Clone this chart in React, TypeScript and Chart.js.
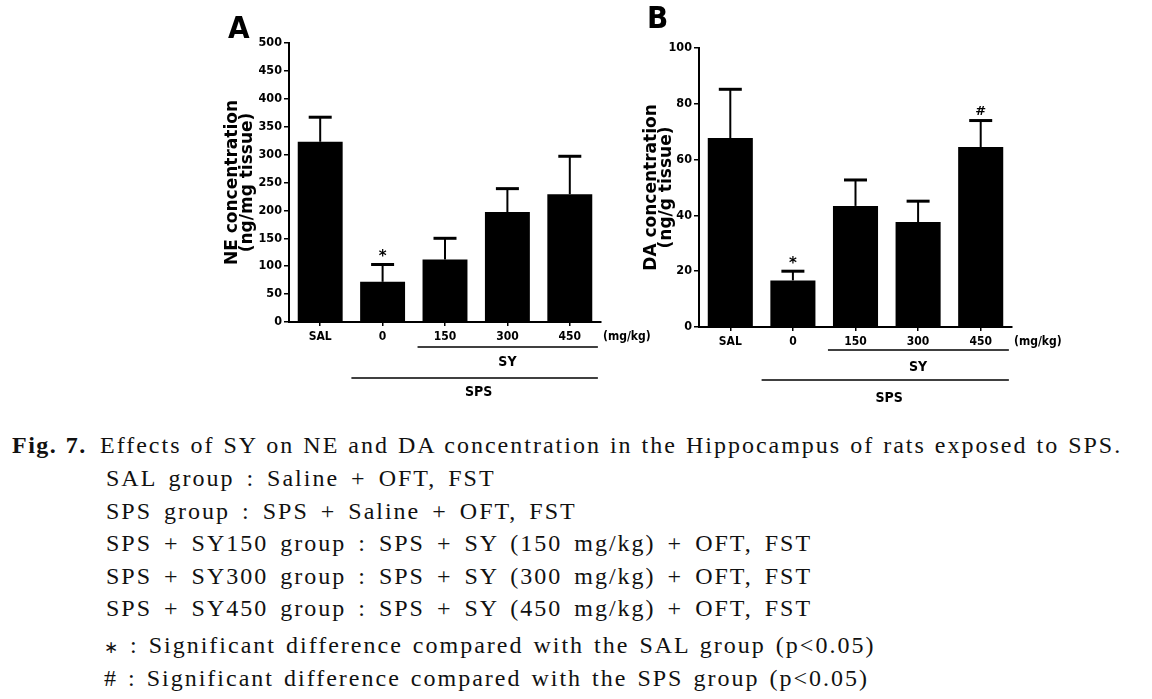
import React, { useEffect, useRef } from 'react';
import { Chart, registerables } from 'chart.js';

Chart.register(...registerables);

// ---------- data ----------
const categories = ['SAL', '0', '150', '300', '450'];

const neMeans = [323, 72, 112, 197, 229];
const neErrors = [44, 31, 38, 42, 68];
const neMarks = ['', '*', '', '', ''];
const neTicks = [0, 50, 100, 150, 200, 250, 300, 350, 400, 450, 500];
const neTitle = ['NE concentration', '(ng/mg tissue)'];

const daMeans = [67.7, 16.7, 43.4, 37.6, 64.5];
const daErrors = [17.5, 3.3, 9.3, 7.5, 9.5];
const daMarks = ['', '*', '', '', '#'];
const daTicks = [0, 20, 40, 60, 80, 100];
const daTitle = ['DA concentration', '(ng/g tissue)'];

const unitLabel = '(mg/kg)';
const innerGroup = 'SY';
const outerGroup = 'SPS';

const captionHead = 'Fig. 7.';
const captionFirst = 'Effects of SY on NE and DA concentration in the Hippocampus of rats exposed to SPS.';
const captionLines = [
  'SAL group : Saline + OFT, FST',
  'SPS group : SPS + Saline + OFT, FST',
  'SPS + SY150 group : SPS + SY (150 mg/kg) + OFT, FST',
  'SPS + SY300 group : SPS + SY (300 mg/kg) + OFT, FST',
  'SPS + SY450 group : SPS + SY (450 mg/kg) + OFT, FST',
];
const noteSymbols = ['\u2217', '#'];
const noteLines = [
  ' : Significant difference compared with the SAL group (p<0.05)',
  ' : Significant difference compared with the SPS group (p<0.05)',
];

// ---------- style ----------
const AXIS_FONT = "'DejaVu Sans Condensed', 'DejaVu Sans', sans-serif";
const TITLE_FONT = "'DejaVu Sans', sans-serif";
const PANEL_FONT = "'Liberation Sans Narrow', 'DejaVu Sans Condensed', sans-serif";

const decorPlugin = {
  id: 'figDecor',
  afterDatasetsDraw(chart: any, _args: any, opts: any) {
    const ctx = chart.ctx;
    const ys = chart.scales.y;
    const meta = chart.getDatasetMeta(0);
    const vals = chart.data.datasets[0].data as number[];
    ctx.save();
    ctx.strokeStyle = '#000';
    ctx.fillStyle = '#000';
    meta.data.forEach((bar: any, i: number) => {
      const cx = bar.x;
      const y0 = ys.getPixelForValue(vals[i]);
      const y1 = ys.getPixelForValue(vals[i] + opts.errors[i]);
      ctx.lineWidth = 2;
      ctx.beginPath();
      ctx.moveTo(cx, y0);
      ctx.lineTo(cx, y1);
      ctx.stroke();
      ctx.lineWidth = 3;
      ctx.beginPath();
      ctx.moveTo(cx - 11.5, y1);
      ctx.lineTo(cx + 11.5, y1);
      ctx.stroke();
      const m = opts.marks[i];
      if (m) {
        ctx.font = (m === '#' ? 'bold 13px ' : 'bold 15px ') + TITLE_FONT;
        ctx.textAlign = 'center';
        ctx.textBaseline = 'middle';
        ctx.fillText(m, cx, y1 - (m === '#' ? 9 : 7));
      }
    });
    ctx.restore();
  },
  afterDraw(chart: any, _args: any, opts: any) {
    const ctx = chart.ctx;
    const xs = chart.scales.x;
    const area = chart.chartArea;
    const cw = xs.getPixelForValue(1) - xs.getPixelForValue(0);
    const bottom = area.bottom;
    ctx.save();
    ctx.fillStyle = '#000';
    ctx.strokeStyle = '#000';
    // panel letter
    ctx.font = 'bold 31px ' + PANEL_FONT;
    ctx.textAlign = 'left';
    ctx.textBaseline = 'alphabetic';
    ctx.fillText(opts.panel, opts.panelX, opts.panelY);
    // unit label
    ctx.font = 'bold 12px ' + PANEL_FONT;
    ctx.textBaseline = 'middle';
    ctx.fillText(unitLabel, area.right + 2, bottom + 15);
    // SY line
    const syL = xs.getPixelForValue(2) - 0.44 * cw;
    const syR = xs.getPixelForValue(4) + 0.45 * cw;
    ctx.lineWidth = 1.5;
    ctx.beginPath();
    ctx.moveTo(syL, bottom + opts.syLine);
    ctx.lineTo(syR, bottom + opts.syLine);
    ctx.stroke();
    ctx.font = 'bold 14px ' + AXIS_FONT;
    ctx.textAlign = 'center';
    ctx.fillText(innerGroup, xs.getPixelForValue(3), bottom + opts.syText);
    // SPS line
    const spL = xs.getPixelForValue(1) - 0.5 * cw;
    ctx.beginPath();
    ctx.moveTo(spL, bottom + opts.spsLine);
    ctx.lineTo(syR, bottom + opts.spsLine);
    ctx.stroke();
    ctx.fillText(outerGroup, (spL + syR) / 2 + 4, bottom + opts.spsText);
    ctx.restore();
  },
};

function makeConfig(
  means: number[],
  errors: number[],
  marks: string[],
  ticks: number[],
  title: string[],
  yWidth: number,
  padding: any,
  decor: any
): any {
  return {
    type: 'bar',
    data: {
      labels: categories,
      datasets: [
        {
          data: means,
          backgroundColor: '#000',
          borderWidth: 0,
          barPercentage: 0.72,
          categoryPercentage: 1,
        },
      ],
    },
    options: {
      animation: false,
      responsive: false,
      devicePixelRatio: 1,
      layout: { padding },
      plugins: {
        legend: { display: false },
        tooltip: { enabled: false },
        title: { display: false },
        figDecor: { errors, marks, ...decor },
      },
      scales: {
        x: {
          offset: true,
          grid: {
            display: true,
            offset: false,
            drawOnChartArea: false,
            drawTicks: true,
            tickLength: 4,
            color: '#000',
            lineWidth: 1.5,
          },
          border: { display: true, color: '#000', width: 2 },
          ticks: {
            color: '#000',
            padding: 4,
            maxRotation: 0,
            autoSkip: false,
            font: { family: AXIS_FONT, weight: 'bold', size: 12 },
          },
          afterFit: (s: any) => {
            s.height = 20;
          },
        },
        y: {
          min: ticks[0],
          max: ticks[ticks.length - 1],
          afterBuildTicks: (s: any) => {
            s.ticks = ticks.map((v) => ({ value: v }));
          },
          grid: {
            display: true,
            drawOnChartArea: false,
            drawTicks: true,
            tickLength: 5,
            color: '#000',
            lineWidth: 1.5,
          },
          border: { display: true, color: '#000', width: 2 },
          ticks: {
            color: '#000',
            padding: 2,
            font: { family: AXIS_FONT, weight: 'bold', size: 12.5 },
          },
          title: {
            display: true,
            text: title,
            color: '#000',
            padding: 0,
            font: { family: TITLE_FONT, weight: 'bold', size: 17, lineHeight: 0.88 },
          },
          afterFit: (s: any) => {
            s.width = yWidth;
          },
        },
      },
    },
    plugins: [decorPlugin],
  };
}

function BarPanel(props: { config: any; left: number; top: number; width: number; height: number }) {
  const ref = useRef<HTMLCanvasElement | null>(null);
  useEffect(() => {
    if (!ref.current) return;
    const chart = new Chart(ref.current, props.config);
    return () => chart.destroy();
  }, []);
  return (
    <canvas
      ref={ref}
      width={props.width}
      height={props.height}
      style={{ position: 'absolute', left: props.left, top: props.top, width: props.width, height: props.height }}
    />
  );
}

const captionStyle: React.CSSProperties = {
  position: 'absolute',
  fontFamily: "'Liberation Serif', 'Times New Roman', serif",
  fontSize: 24,
  lineHeight: '24px',
  letterSpacing: '2px',
  wordSpacing: '1px',
  whiteSpace: 'pre',
  color: '#111',
};

export default function App() {
  const configA = makeConfig(
    neMeans,
    neErrors,
    neMarks,
    neTicks,
    neTitle,
    64,
    { left: 25, top: 43, right: 59, bottom: 68 },
    { panel: 'A', panelX: 28, panelY: 38, syLine: 25, syText: 40, spsLine: 56, spsText: 70 }
  );
  const configB = makeConfig(
    daMeans,
    daErrors,
    daMarks,
    daTicks,
    daTitle,
    55,
    { left: 24, top: 48, right: 68, bottom: 63 },
    { panel: 'B', panelX: 27, panelY: 28, syLine: 23, syText: 40, spsLine: 53, spsText: 71 }
  );
  const baselines = [453, 486, 519, 551, 584, 616, 653, 686];
  return (
    <div style={{ position: 'absolute', left: 0, top: 0, width: 1152, height: 699, background: '#fff', overflow: 'hidden' }}>
      <BarPanel config={configA} left={200} top={0} width={460} height={410} />
      <BarPanel config={configB} left={620} top={0} width={460} height={410} />
      <div style={{ ...captionStyle, left: 12, top: baselines[0] - 20, fontWeight: 'bold', letterSpacing: '1.5px' }}>{captionHead}</div>
      <div style={{ ...captionStyle, left: 100, top: baselines[0] - 20 }}>{captionFirst}</div>
      {captionLines.map((t, i) => (
        <div key={t} style={{ ...captionStyle, left: 106, top: baselines[i + 1] - 20, wordSpacing: '4px' }}>
          {t}
        </div>
      ))}
      {noteLines.map((t, i) => (
        <div key={t} style={{ ...captionStyle, left: 104, top: baselines[i + 6] - 20, wordSpacing: '2px' }}>
          <span style={{ fontSize: i === 0 ? 17 : 24 }}>{noteSymbols[i]}</span>
          {t}
        </div>
      ))}
    </div>
  );
}
